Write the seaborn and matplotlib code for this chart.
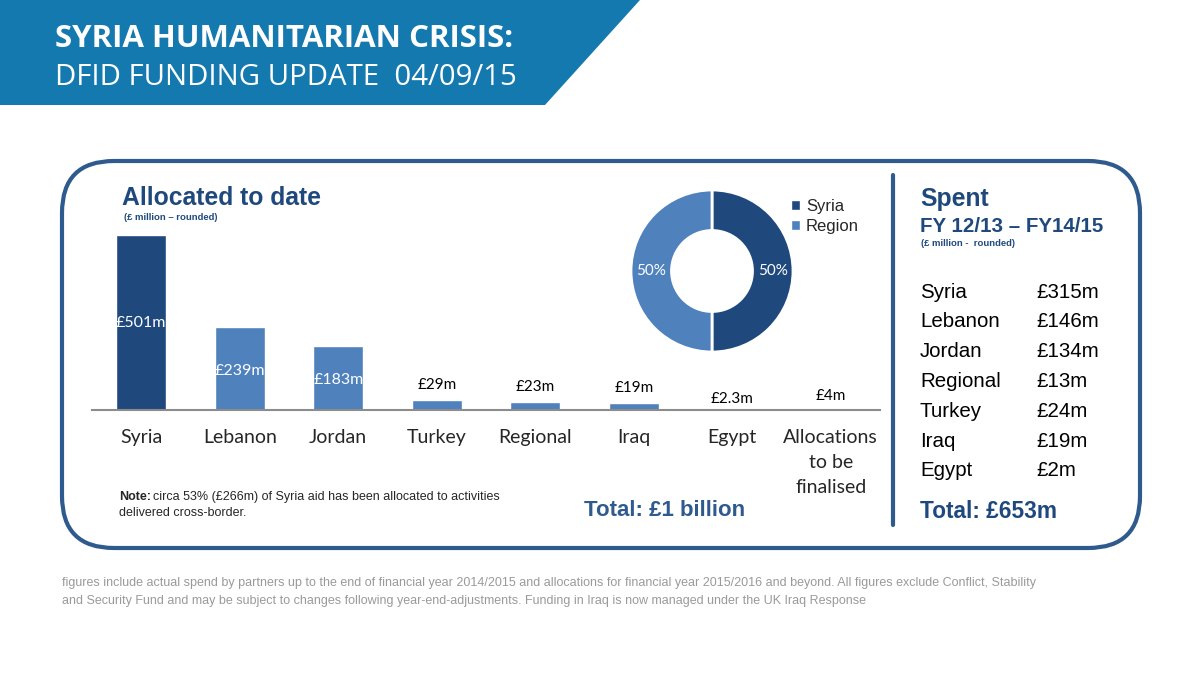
import matplotlib
matplotlib.use("Agg")
import matplotlib.pyplot as plt
from matplotlib.patches import Polygon, FancyBboxPatch, Patch
import seaborn as sns
import pandas as pd

# allocated to date (£ million)
categories = ["Syria", "Lebanon", "Jordan", "Turkey", "Regional", "Iraq", "Egypt",
              "Allocations\nto be\nfinalised"]
allocated = [501, 239, 183, 29, 23, 19, 2.3, 4]
alloc_labels = ["£501m", "£239m", "£183m", "£29m", "£23m", "£19m", "£2.3m", "£4m"]

# donut split
split_names = ["Syria", "Region"]
split_share = [50, 50]

# spent FY12/13 - FY14/15
spent_names = ["Syria", "Lebanon", "Jordan", "Regional", "Turkey", "Iraq", "Egypt"]
spent_values = ["£315m", "£146m", "£134m", "£13m", "£24m", "£19m", "£2m"]

DARK = "#1f497d"
LIGHT = "#4f81bd"
HEAD = "#1479ae"
BORDER = "#2f5a8e"
W, H = 1200, 694

sns.set_theme(style="white")
plt.rcParams["font.family"] = ["Liberation Sans", "DejaVu Sans"]

fig = plt.figure(figsize=(12, 6.94), dpi=100)
fig.patch.set_facecolor("white")

# full-figure overlay in pixel coords
bg = fig.add_axes([0, 0, 1, 1], zorder=0)
bg.set_xlim(0, W)
bg.set_ylim(H, 0)
bg.axis("off")

bg.add_patch(Polygon([(0, 0), (640, 0), (545, 105), (0, 105)], closed=True,
                     facecolor=HEAD, edgecolor="none"))
bg.text(55, 39, "SYRIA HUMANITARIAN CRISIS:", color="white", fontsize=22.5,
        fontweight="bold", family="Open Sans", va="center")
bg.text(55, 77, "DFID FUNDING UPDATE  04/09/15", color="white", fontsize=21.2,
        family="Open Sans", va="center")

bg.add_patch(FancyBboxPatch((62 + 52, 161 + 52), 1078 - 104, 387 - 104,
                            boxstyle="round,pad=52", facecolor="none",
                            edgecolor=BORDER, linewidth=3))
bg.plot([893, 893], [175, 525], color=BORDER, lw=3)

bg.text(122, 198, "Allocated to date", color=DARK, fontsize=17.8, fontweight="bold",
        va="center")
bg.text(124, 217, "(£ million – rounded)", color=DARK, fontsize=6.8,
        fontweight="bold", va="center")

bg.text(119, 497, "Note:", fontsize=9, fontweight="bold", va="center")
bg.text(153, 497, "circa 53% (£266m) of Syria aid has been allocated to activities",
        fontsize=9, va="center")
bg.text(119, 513, "delivered cross-border.", fontsize=9, va="center")
bg.text(665, 511, "Total: £1 billion", color=BORDER, fontsize=16, fontweight="bold",
        ha="center", va="center")

# right panel
bg.text(920, 199, "Spent", color=DARK, fontsize=17.8, fontweight="bold", va="center")
bg.text(920, 226, "FY 12/13 – FY14/15", color=DARK, fontsize=14.8, fontweight="bold",
        va="center")
bg.text(921, 243, "(£ million -  rounded)", color=DARK, fontsize=6.8,
        fontweight="bold", va="center")
for i, (n, v) in enumerate(zip(spent_names, spent_values)):
    y = 292 + i * 29.8
    bg.text(920, y, n, fontsize=14.8, va="center", color="black")
    bg.text(1036, y, v, fontsize=14.8, va="center", color="black")
bg.text(920, 511, "Total: £653m", color=DARK, fontsize=16.3, fontweight="bold",
        va="center")

bg.text(62, 583, "figures include actual spend by partners up to the end of financial year "
        "2014/2015 and allocations for financial year 2015/2016 and beyond. All figures "
        "exclude Conflict, Stability", fontsize=9, color="#9a9a9a", va="center")
bg.text(62, 601, "and Security Fund and may be subject to changes following "
        "year-end-adjustments. Funding in Iraq is now managed under the UK Iraq Response",
        fontsize=9, color="#9a9a9a", va="center")

# bar chart
ax = fig.add_axes([92 / W, 1 - 410 / H, 788 / W, 185 / H], zorder=2)
ax.patch.set_alpha(0)
df = pd.DataFrame({"category": categories, "value": allocated})
palette = [DARK] + [LIGHT] * (len(categories) - 1)
sns.barplot(data=df, x="category", y="value", hue="category", palette=palette,
            width=0.51, legend=False, ax=ax, saturation=1)
ax.set_xlim(-0.5, len(categories) - 0.5)
ax.set_ylim(0, 530)
ax.set_xlabel("")
ax.set_ylabel("")
ax.set_yticks([])
for s in ["top", "right", "left"]:
    ax.spines[s].set_visible(False)
ax.spines["bottom"].set_color("#8c8c8c")
ax.spines["bottom"].set_linewidth(1.5)
ax.tick_params(axis="x", length=0, pad=14)
ax.set_xticks(range(len(categories)))
ax.set_xticklabels(categories, fontsize=14, family="Lato", linespacing=1.55,
                   va="top")
for i, (v, lab) in enumerate(zip(allocated, alloc_labels)):
    if v > 100:
        ax.text(i, v / 2 if i == 0 else v * 0.47, lab,
                color="white", fontsize=11.5, family="Lato", ha="center", va="center")
    else:
        off = {6: 3, 7: 6}.get(i, 8)
        ax.text(i, v + off * 530 / 185, lab, color="black", fontsize=11,
                family="Lato", ha="center", va="bottom")

# donut
ax2 = fig.add_axes([(712 - 81) / W, 1 - (271 + 81) / H, 162 / W, 162 / H], zorder=2)
wedges, _, autotexts = ax2.pie(split_share, colors=[DARK, LIGHT], startangle=90,
                               counterclock=False, autopct="%d%%", pctdistance=0.75,
                               wedgeprops=dict(width=0.5, edgecolor="white", linewidth=2))
for t in autotexts:
    t.set_color("white")
    t.set_fontsize(11)
    t.set_family("Lato")
ax2.set_xlim(-1, 1)
ax2.set_ylim(-1, 1)
ax2.set_aspect("equal")
handles = [Patch(facecolor=DARK), Patch(facecolor=LIGHT)]
fig.legend(handles, split_names, loc="upper left",
           bbox_to_anchor=(776 / W, 1 - 184 / H), frameon=False, fontsize=12,
           handlelength=0.55, handleheight=0.55, handletextpad=0.35, labelspacing=0.3)

fig.savefig("out.png", dpi=100)
